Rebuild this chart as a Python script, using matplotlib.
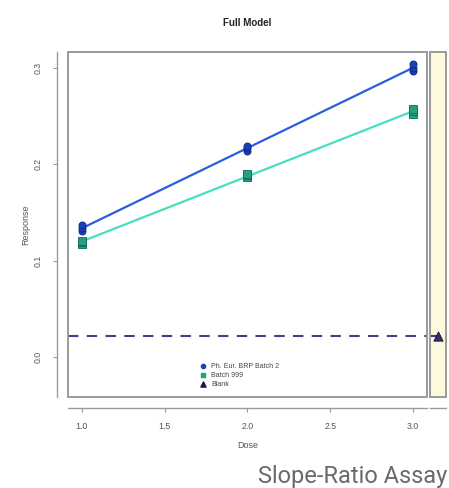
import numpy as np
import matplotlib
matplotlib.use('Agg')
import matplotlib.pyplot as plt
from matplotlib.patches import Rectangle

plt.rcParams['font.family'] = ['Liberation Sans', 'DejaVu Sans']

# replicate responses per dose
doses = [1.0, 2.0, 3.0]
brp_resp = [[0.131, 0.134, 0.137], [0.214, 0.217, 0.219], [0.297, 0.300, 0.304]]
batch_resp = [[0.118, 0.120, 0.121], [0.187, 0.189, 0.190], [0.252, 0.255, 0.257]]
blank_resp = 0.0227
legend_labels = ['Ph. Eur. BRP Batch 2', 'Batch 999', 'Blank']
x_ticks = [1.0, 1.5, 2.0, 2.5, 3.0]
y_ticks = [0.0, 0.1, 0.2, 0.3]

grey = '#9a9a9a'
tick_c = '#555555'

fig = plt.figure(figsize=(4.49, 4.88), dpi=100)
ax = fig.add_axes([0.1514, 0.1865, 0.7996, 0.707])
ax2 = fig.add_axes([0.9577, 0.1865, 0.0356, 0.707])


def style_axes(a):
    for s in ['top', 'right']:
        a.spines[s].set_visible(False)
    for s in ['left', 'bottom']:
        a.spines[s].set_position(('outward', 8))
        a.spines[s].set_color(grey)
        a.spines[s].set_linewidth(1.0)
    a.add_patch(Rectangle((0, 0), 1, 1, transform=a.transAxes, fill=False,
                          edgecolor=grey, linewidth=1.4, zorder=5, clip_on=False))
    a.tick_params(length=3, width=0.8, color=grey, labelsize=6.3, labelcolor=tick_c, pad=7)


style_axes(ax)
style_axes(ax2)

# data points and fitted lines
series = [
    (brp_resp, '#2a5ee0', '#1c3fb8', '#0f2680', 'o'),
    (batch_resp, '#45e0c0', '#22a082', '#136a55', 's'),
]
for resp, line_c, face_c, edge_c, mk in series:
    xs = np.repeat(doses, 3)
    ys = np.array(resp).ravel()
    k, b = np.polyfit(xs, ys, 1)
    xl = np.array([doses[0], doses[-1]])
    ax.plot(xl, k * xl + b, color=line_c, lw=1.6, zorder=2)
    ax.scatter(xs, ys, marker=mk, s=26, facecolor=face_c, edgecolor=edge_c,
               linewidth=0.6, zorder=3)

ax.axhline(blank_resp, color='#4a3a8a', lw=1.5, ls=(0, (5, 4)), zorder=2)

ax.set_xlim(0.916, 3.084)
ax.set_ylim(-0.041, 0.3165)
ax.set_xticks(x_ticks)
ax.set_xticklabels([f'{v:.1f}' for v in x_ticks])
ax.set_yticks(y_ticks)
ax.set_yticklabels([f'{v:.1f}' for v in y_ticks], rotation=90, va='center')
ax.set_xlabel('Dose', fontsize=6.5, color=tick_c, labelpad=7)
ax.set_ylabel('Response', fontsize=6.5, color=tick_c, labelpad=3)
ax.set_title('Full Model', fontsize=7, fontweight='bold', color='#222222', pad=19)

# legend
lh = [
    ax.scatter([], [], marker='o', s=9, color='#1c3fb8'),
    ax.scatter([], [], marker='s', s=9, color='#22a082'),
    ax.scatter([], [], marker='^', s=14, color='#1a1a3a'),
]
ax.legend(lh, legend_labels, loc='lower left', bbox_to_anchor=(0.34, 0.01),
          frameon=False, fontsize=5, handletextpad=0.2, labelspacing=0.3,
          borderaxespad=0.4, labelcolor='#444444')

# right panel with blank
ax2.set_facecolor('#fdf9dc')
ax2.scatter([0.5], [blank_resp], marker='^', s=45, facecolor='#3a2a6a',
            edgecolor='#1e1440', linewidth=0.6, zorder=3)
ax2.axhline(blank_resp, color='#4a3a8a', lw=1.5, ls=(0, (5, 4)), zorder=2)
ax2.set_xlim(0, 1)
ax2.set_ylim(ax.get_ylim())
ax2.set_xticks([])
ax2.set_yticks([])
ax2.spines['left'].set_visible(False)

fig.text(0.995, 0.0, 'Slope-Ratio Assay', ha='right', va='bottom',
         fontsize=17, color='#6a6a6a', family=['Roboto', 'DejaVu Sans'])

fig.savefig('out.png', dpi=100)
